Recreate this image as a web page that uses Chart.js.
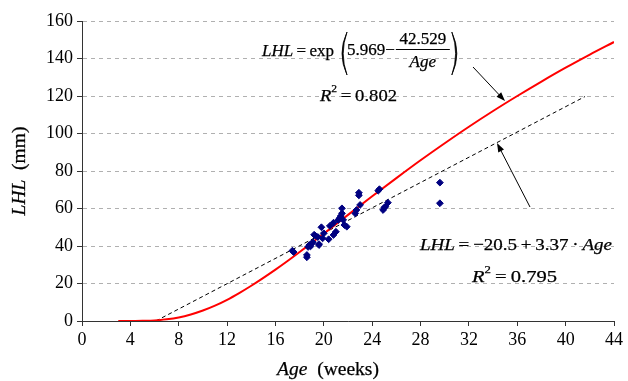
<!DOCTYPE html>
<html>
<head>
<meta charset="utf-8">
<script src="https://cdn.jsdelivr.net/npm/chart.js@4.4.1/dist/chart.umd.min.js"></script>
<style>
html, body { margin: 0; padding: 0; background: #fff; }
#wrap { width: 628px; height: 381px; }
</style>
</head>
<body>
<div id="wrap"><canvas id="lhlChart"></canvas></div>
<script>
// measured points (age in weeks, LHL in mm)
const ageWeeks = [17.4, 17.5, 18.6, 18.6, 18.7, 18.8, 18.9, 19.0, 19.1, 19.2, 19.3, 19.5, 19.6, 19.6, 19.8,
    19.9, 20.0, 20.4, 20.5, 20.8, 20.8, 21.0, 21.2, 21.3, 21.4, 21.5, 21.5, 21.6, 21.7, 21.9,
    22.6, 22.7, 22.9, 22.9, 23.0, 24.5, 24.6, 24.9, 25.0, 25.1, 25.3, 29.6, 29.6];
const lhlMm = [37.5, 36.8, 35.2, 34.0, 39.5, 40.5, 39.8, 41.4, 42.0, 46.0, 45.5, 44.8, 40.5, 41.0, 50.0,
    44.1, 46.8, 43.6, 50.7, 52.4, 45.9, 47.6, 53.9, 54.8, 56.0, 60.1, 57.4, 53.9, 51.2, 50.3,
    57.4, 59.2, 68.4, 67.0, 61.9, 69.5, 70.3, 59.2, 60.5, 61.0, 63.1, 73.8, 62.8];

// red exponential fit
const fitAges = [3, 4, 5, 6, 7, 8, 9, 10, 11, 12, 13, 14, 15, 16, 17, 18, 19, 20, 22, 24, 26, 28, 30, 32, 34, 36, 38, 40, 42, 44];
const fitLhl = [0, 0, 0.1, 0.3, 0.9, 1.9, 3.5, 5.6, 8.2, 11.3, 14.9, 18.8, 23.0, 27.4, 32.0, 36.8, 41.7, 46.6,
    56.6, 66.5, 76.2, 85.7, 94.8, 103.6, 112.0, 120.0, 127.7, 135.1, 142.1, 148.8];

// dashed linear fit, its two ends
const linAges = [6.1, 41.6];
const linLhl = [0, 119.7];

const xMax = 44, xStep = 4;
const yMax = 160, yStep = 20;

const SERIF = '"Liberation Serif", "Times New Roman", serif';
const TS = '\u2009';

function pairs(xs, ys) {
    return xs.map((x, i) => ({ x: x, y: ys[i] }));
}

// parts: [text, italic, sup]; if x1 is given the run is stretched to fill x0..x1
function drawEq(ctx, parts, x0, x1, y, size) {
    const fontOf = (p) => (p[1] ? 'italic ' : '') + (p[2] ? size * 0.62 : size) + 'px ' + SERIF;
    let w = 0;
    parts.forEach((p) => { ctx.font = fontOf(p); w += ctx.measureText(p[0]).width; });
    ctx.save();
    ctx.translate(x0, y);
    ctx.scale(x1 ? (x1 - x0) / w : 1, 1);
    let cx = 0;
    parts.forEach((p) => {
        ctx.font = fontOf(p);
        ctx.fillText(p[0], cx, p[2] ? -size * 0.4 : 0);
        ctx.lineWidth = 0.25;
        ctx.strokeText(p[0], cx, p[2] ? -size * 0.4 : 0);
        cx += ctx.measureText(p[0]).width;
    });
    ctx.restore();
    return x0 + w;
}

function drawCentered(ctx, parts, xc, y, size) {
    const fontOf = (p) => (p[1] ? 'italic ' : '') + size + 'px ' + SERIF;
    let w = 0;
    parts.forEach((p) => { ctx.font = fontOf(p); w += ctx.measureText(p[0]).width; });
    drawEq(ctx, parts, xc - w / 2, null, y, size);
}

function paren(ctx, xEdge, xBulge, top, bottom) {
    const mid = (top + bottom) / 2;
    ctx.beginPath();
    ctx.moveTo(xEdge, top);
    ctx.quadraticCurveTo(xBulge, mid, xEdge, bottom);
    ctx.quadraticCurveTo(xBulge + (xBulge < xEdge ? 2.4 : -2.4), mid, xEdge, top);
    ctx.fill();
    ctx.lineWidth = 0.8;
    ctx.stroke();
}

function arrow(ctx, x1, y1, x2, y2) {
    const a = Math.atan2(y2 - y1, x2 - x1);
    ctx.beginPath();
    ctx.moveTo(x1, y1);
    ctx.lineTo(x2 - 6 * Math.cos(a), y2 - 6 * Math.sin(a));
    ctx.lineWidth = 1;
    ctx.stroke();
    ctx.beginPath();
    ctx.moveTo(x2, y2);
    ctx.lineTo(x2 - 9 * Math.cos(a) + 3.2 * Math.sin(a), y2 - 9 * Math.sin(a) - 3.2 * Math.cos(a));
    ctx.lineTo(x2 - 9 * Math.cos(a) - 3.2 * Math.sin(a), y2 - 9 * Math.sin(a) + 3.2 * Math.cos(a));
    ctx.closePath();
    ctx.fill();
}

const labelsPlugin = {
    id: 'labels',
    afterDraw(chart) {
        const ctx = chart.ctx;
        const area = chart.chartArea;
        ctx.save();
        ctx.fillStyle = '#000';
        ctx.strokeStyle = '#000';
        ctx.textBaseline = 'middle';

        // axis titles
        drawCentered(ctx, [['Age', true], ['  (weeks)', false]], 328, 370, 19.5);
        ctx.save();
        ctx.translate(20, (area.top + area.bottom) / 2);
        ctx.rotate(-Math.PI / 2);
        drawCentered(ctx, [['LHL', true], ['  (mm)', false]], 0, 0, 19.5);
        ctx.restore();

        // exponential equation
        drawEq(ctx, [['LHL', true], [TS + '=' + TS + 'exp', false]], 262, 334, 51, 17.5);
        paren(ctx, 347, 337, 32, 75);
        const fx = drawEq(ctx, [['5.969\u2212', false]], 347, null, 51, 17) + 1;
        drawCentered(ctx, [['42.529', false]], fx + 27, 40, 17);
        drawCentered(ctx, [['Age', true]], fx + 27, 63, 17);
        ctx.fillRect(fx, 49, 54, 1);
        paren(ctx, fx + 56, fx + 66, 32, 75);
        drawEq(ctx, [['R', true], ['2', false, true], [TS + '=' + TS + '0.802', false]], 320, 397, 96, 17.5);

        // linear equation
        drawEq(ctx, [['LHL', true], [TS + '=' + TS + '\u221220.5' + TS + '+' + TS + '3.37' + TS + '\u00b7' + TS, false], ['Age', true]],
            420, 612, 245, 17.5);
        drawEq(ctx, [['R', true], ['2', false, true], [TS + '=' + TS + '0.795', false]], 472, 557, 277, 17.5);

        arrow(ctx, 473, 67, 505, 101);
        arrow(ctx, 530, 207, 497, 143);
        ctx.restore();
    }
};

new Chart(document.getElementById('lhlChart'), {
    type: 'scatter',
    data: {
        datasets: [
            {
                label: 'Data',
                data: pairs(ageWeeks, lhlMm),
                pointStyle: 'rectRot',
                pointRadius: 3.4,
                backgroundColor: '#000080',
                borderColor: '#000080',
                borderWidth: 1,
            },
            {
                label: 'Exponential fit',
                data: pairs(fitAges, fitLhl),
                showLine: true,
                borderColor: '#ff0000',
                borderWidth: 2,
                pointRadius: 0,
                cubicInterpolationMode: 'monotone',
            },
            {
                label: 'Linear fit',
                data: pairs(linAges, linLhl),
                showLine: true,
                borderColor: '#000',
                borderWidth: 1,
                borderDash: [4, 3],
                pointRadius: 0,
            },
        ],
    },
    options: {
        responsive: true,
        maintainAspectRatio: false,
        animation: false,
        layout: { padding: { left: 0, right: 14, top: 21, bottom: 0 } },
        plugins: {
            legend: { display: false },
            tooltip: { enabled: false },
        },
        scales: {
            x: {
                type: 'linear',
                min: 0,
                max: xMax,
                afterFit: (scale) => { scale.height = 60; },
                ticks: { stepSize: xStep, color: '#000', padding: 3, maxRotation: 0, font: { family: SERIF, size: 18 } },
                grid: { drawOnChartArea: false, tickLength: 5, color: '#333', tickColor: '#333' },
                border: { color: '#333', width: 1 },
            },
            y: {
                min: 0,
                max: yMax,
                afterFit: (scale) => { scale.width = 82; },
                ticks: { stepSize: yStep, color: '#000', padding: 4, font: { family: SERIF, size: 18 } },
                grid: { color: '#b0b0b0', tickColor: '#333', tickLength: 5 },
                border: { color: '#333', width: 1, dash: [4, 4] },
            },
        },
    },
    plugins: [labelsPlugin],
});
</script>
</body>
</html>
